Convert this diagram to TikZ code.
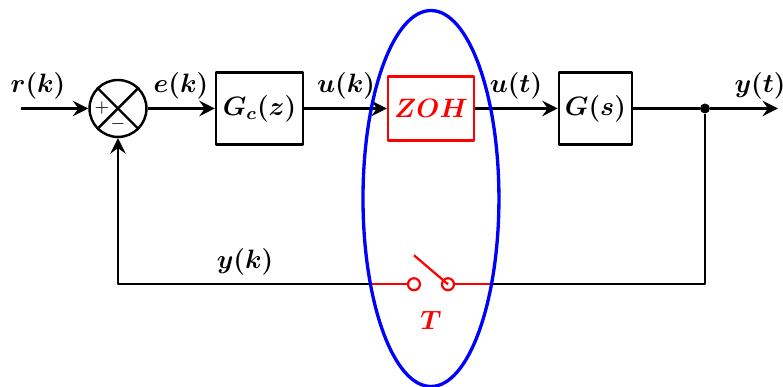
\documentclass[tikz,border=0pt]{standalone}
\usepackage{amsmath,amssymb,bm}
\usepackage{xcolor}
\usetikzlibrary{arrows.meta,calc}
\tikzset{
  wire/.style={line width=1.1pt},
  blockbox/.style={draw,wire,minimum width=#1,minimum height=1.143cm,inner sep=0pt,font=\large},
  sumcircle/.style={draw,wire,circle,minimum size=0.904cm,inner sep=0pt},
  sampled/.style={red,line width=1pt},
  signal/.style={font=\large},
}
\begin{document}
\begin{tikzpicture}[>={Stealth[length=7pt,width=7pt,inset=2.5pt]}, line join=round]
  \useasboundingbox (0,0) rectangle (12.429,6.143);
  \coordinate (R) at (0.333,4.421);
  \coordinate (Yend) at (12.349,4.421);
  \coordinate (FL) at (5.873,1.631);
  \coordinate (FR) at (7.810,1.631);
  \coordinate (Blade) at (6.571,2.091);
  \node[sumcircle] (sum) at (1.873,4.421) {};
  \node[blockbox=1.381cm] (Gc) at (4.119,4.421) {$\bm{G_c(z)}$};
  \node[blockbox=1.365cm,minimum height=1.016cm,draw=red,text=red,line width=1pt] (ZOH) at (6.841,4.421) {$\bm{ZOH}$};
  \node[blockbox=1.159cm] (G) at (9.452,4.421) {$\bm{G(s)}$};
  \node[circle,fill,inner sep=0pt,minimum size=4.5pt] (dot) at (11.190,4.421) {};
  \node[draw=red,line width=1pt,circle,inner sep=0pt,minimum size=0.19cm] (SL) at (6.571,1.631) {};
  \node[draw=red,line width=1pt,circle,inner sep=0pt,minimum size=0.19cm] (SR) at (7.111,1.631) {};
  \draw[wire] (sum.north west) -- (sum.south east);
  \draw[wire] (sum.north east) -- (sum.south west);
  \node[font=\footnotesize] (plus) at (1.619,4.421) {$+$};
  \node[font=\footnotesize] (minus) at (1.873,4.171) {$-$};
  \draw[->,wire] (R) -- (sum);
  \draw[->,wire] (sum) -- (Gc);
  \draw[->,wire] (Gc) -- (ZOH);
  \draw[->,wire] (ZOH) -- (G);
  \draw[wire] (G) -- (dot);
  \draw[->,wire] (dot) -- (Yend);
  \draw[wire] (dot) |- (FR);
  \draw[->,wire] (FL) -| (sum);
  \draw[sampled] (FL) -- (SL);
  \draw[sampled] (SR) -- (FR);
  \draw[sampled] (Blade) -- (SR.center);
  \draw[blue,line width=1.5pt] (6.841,2.992) ellipse (1.079 and 2.984);
  \node[signal] (rk) at (0.603,4.786) {$\bm{r(k)}$};
  \node[signal] (ek) at (2.873,4.786) {$\bm{e(k)}$};
  \node[signal] (uk) at (5.492,4.786) {$\bm{u(k)}$};
  \node[signal] (ut) at (8.190,4.786) {$\bm{u(t)}$};
  \node[signal] (yt) at (12.064,4.786) {$\bm{y(t)}$};
  \node[signal] (yk) at (3.889,1.992) {$\bm{y(k)}$};
  \node[signal,red] (T) at (6.841,1.055) {$\bm{T}$};
\end{tikzpicture}
\end{document}
